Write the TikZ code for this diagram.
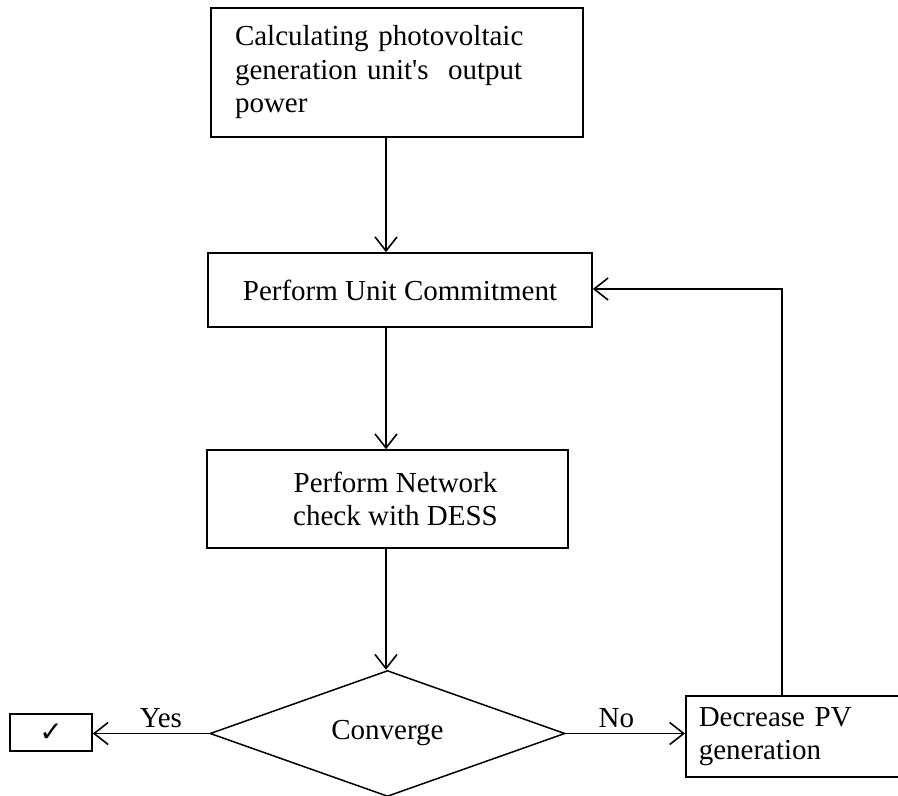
\documentclass[tikz,border=0pt]{standalone}
\usepackage{fontspec}
\setmainfont{Liberation Serif}
\newfontfamily\symfont{DejaVu Sans}
\usetikzlibrary{shapes.geometric,arrows.meta,calc}
\begin{document}
\begin{tikzpicture}[x=1pt,y=-1pt,
  every node/.style={font=\fontsize{29}{33.5}\selectfont},
  boxnode/.style={draw,line width=1.6pt,rectangle,inner ysep=0pt},
  arr/.style={draw,line width=1.6pt,-{Straight Barb[length=14pt,width=22pt,line width=1.6pt]}},
  lbl/.style={inner sep=0pt}
]
\useasboundingbox (0,0) rectangle (898,796);
\node[boxnode,minimum width=372pt,minimum height=129pt,text width=324pt,inner xsep=24pt,align=left] (b1) at (397,72.5) {Calculating photovoltaic\\ generation unit\textquotesingle s\ \ output\\ power};
\node[boxnode,minimum width=384pt,minimum height=74pt,align=center] (b2) at (400,290) {Perform Unit Commitment};
\node[boxnode,minimum width=361pt,minimum height=98pt,align=center] (b3) at (387.5,499) {\hspace*{16pt}Perform Network\\ \hspace*{16pt}check with DESS};
\node[draw,line width=1.5pt,diamond,shape aspect=2.8,inner sep=0pt,minimum width=355pt,minimum height=126pt] (dm) at (387.5,733.5) {Converge};
\node[boxnode,minimum width=82pt,minimum height=37pt,inner sep=0pt] (ok) at (51,732.5) {\symfont\fontsize{28}{28}\selectfont ✓};
\node[boxnode,anchor=west,minimum width=225pt,minimum height=81pt,text width=199pt,inner xsep=13pt,align=left] (dec) at (685,736.5) {Decrease PV\\ generation};
\coordinate (c1) at (386,0);
\coordinate (fb) at (782,289);
\draw[arr] (b1.south -| c1) -- (b2.north -| c1);
\draw[arr] (b2.south -| c1) -- (b3.north -| c1);
\draw[arr] (b3.south -| c1) -- (dm.north -| c1);
\draw[arr] (dm.west) -- (dm.west -| ok.east) node[lbl,pos=0.415,above=5pt] (yes) {Yes};
\draw[arr] (dm.east) -- (dm.east -| dec.west) node[lbl,pos=0.425,above=5pt] (no) {No};
\draw[arr] (dec.north -| fb) -- (fb) -- (b2.east |- fb);
\end{tikzpicture}
\end{document}
